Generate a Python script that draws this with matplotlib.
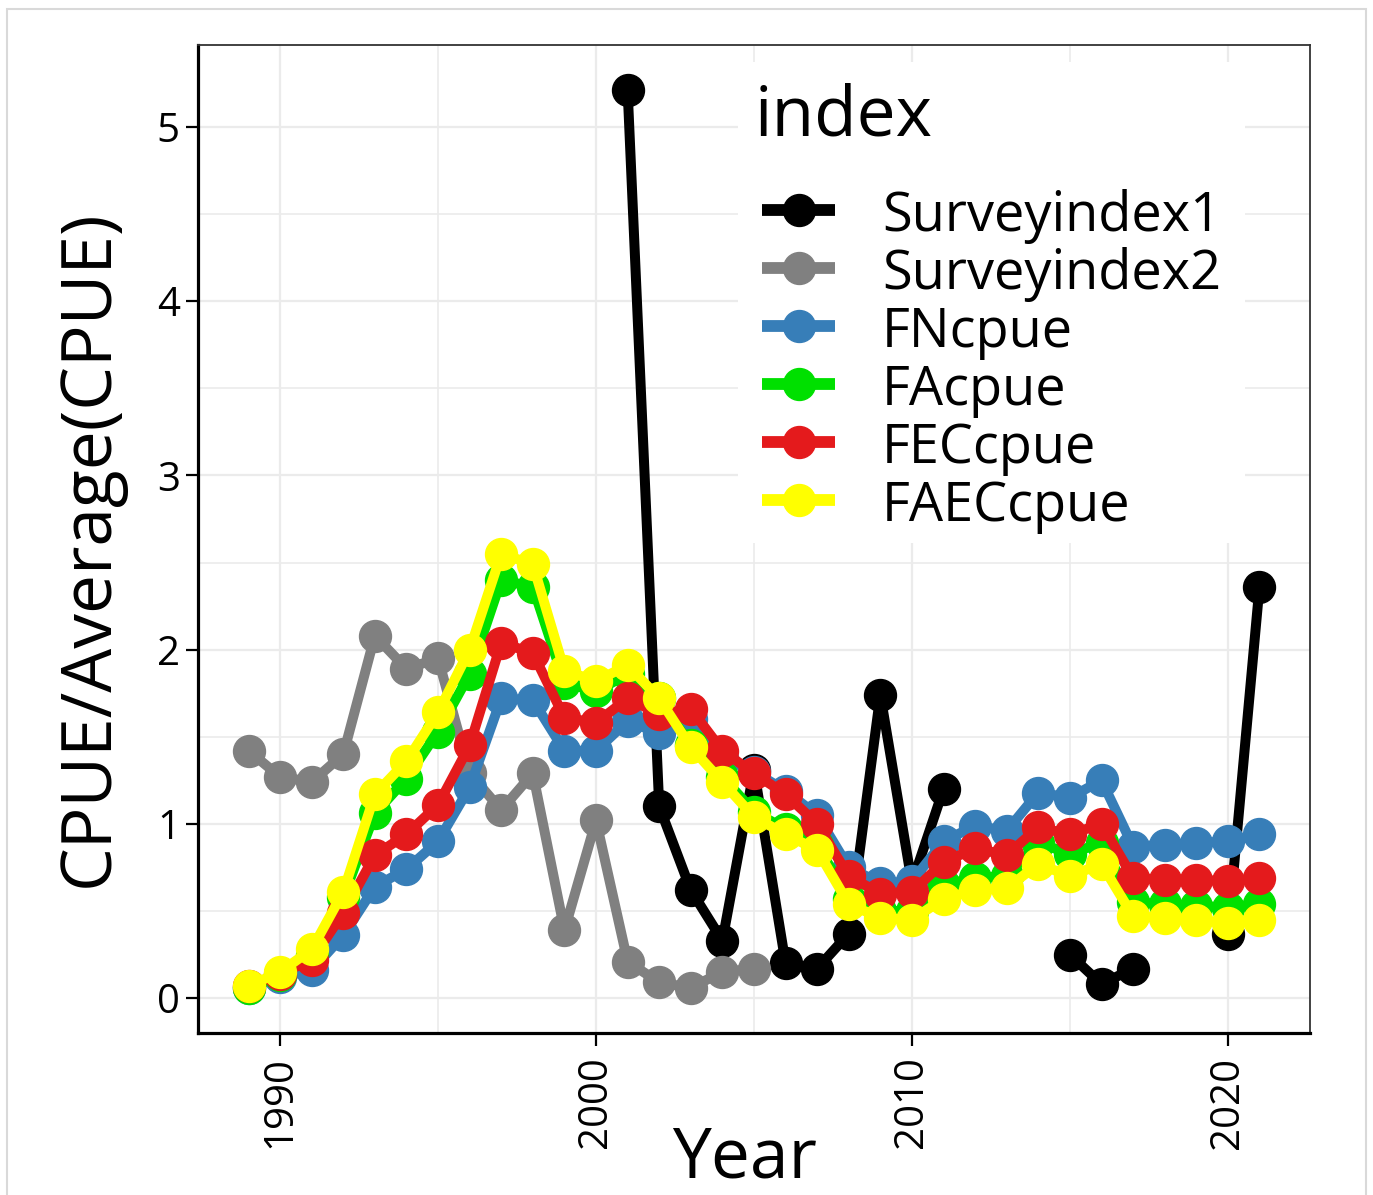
import numpy as np
import matplotlib
matplotlib.use("Agg")
import matplotlib.pyplot as plt
from matplotlib.lines import Line2D
from matplotlib.patches import Rectangle

nan = np.nan

# ── Data ────────────────────────────────────────────────────────────────────
years = [1989, 1990, 1991, 1992, 1993, 1994, 1995, 1996, 1997, 1998, 1999,
         2000, 2001, 2002, 2003, 2004, 2005, 2006, 2007, 2008, 2009, 2010,
         2011, 2012, 2013, 2014, 2015, 2016, 2017, 2018, 2019, 2020, 2021]

surveyindex1 = [nan, nan, nan, nan, nan, nan, nan, nan, nan, nan, nan,
                nan, 5.21, 1.10, 0.62, 0.33, 1.31, 0.20, 0.17, 0.37, 1.74, 0.66,
                1.20, nan, nan, nan, 0.25, 0.08, 0.17, nan, nan, 0.37, 2.36]
surveyindex2 = [1.42, 1.27, 1.24, 1.40, 2.08, 1.89, 1.95, 1.29, 1.08, 1.29, 0.39,
                1.02, 0.21, 0.09, 0.06, 0.15, 0.17, nan, nan, nan, nan, nan,
                nan, nan, nan, nan, nan, nan, nan, nan, nan, nan, nan]
fncpue = [0.06, 0.12, 0.16, 0.36, 0.64, 0.74, 0.90, 1.21, 1.72, 1.71, 1.42,
          1.42, 1.59, 1.52, 1.60, 1.38, 1.30, 1.19, 1.05, 0.75, 0.66, 0.67,
          0.90, 0.99, 0.96, 1.18, 1.15, 1.25, 0.87, 0.88, 0.89, 0.90, 0.94]
facpue = [0.06, 0.13, 0.25, 0.58, 1.06, 1.26, 1.53, 1.86, 2.40, 2.36, 1.81,
          1.76, 1.86, 1.72, 1.45, 1.27, 1.07, 0.97, 0.88, 0.57, 0.50, 0.50,
          0.65, 0.69, 0.70, 0.89, 0.83, 0.89, 0.55, 0.54, 0.53, 0.52, 0.54]
feccpue = [0.07, 0.14, 0.22, 0.49, 0.82, 0.94, 1.11, 1.45, 2.04, 1.98, 1.61,
           1.58, 1.72, 1.63, 1.66, 1.42, 1.29, 1.17, 1.00, 0.70, 0.60, 0.61,
           0.78, 0.86, 0.82, 0.98, 0.94, 1.00, 0.69, 0.68, 0.68, 0.67, 0.69]
faeccpue = [0.07, 0.15, 0.28, 0.61, 1.17, 1.36, 1.64, 2.00, 2.55, 2.49, 1.88,
            1.82, 1.91, 1.72, 1.44, 1.24, 1.04, 0.94, 0.85, 0.54, 0.46, 0.45,
            0.57, 0.62, 0.63, 0.77, 0.70, 0.77, 0.47, 0.46, 0.45, 0.43, 0.45]

labels = ["Surveyindex1", "Surveyindex2", "FNcpue", "FAcpue", "FECcpue", "FAECcpue"]
colours = ["#000000", "#808080", "#377eb8", "#00e000", "#e41a1c", "#ffff00"]
series = [surveyindex1, surveyindex2, fncpue, facpue, feccpue, faeccpue]

x_ticks = [1990, 2000, 2010, 2020]
y_ticks = [0, 1, 2, 3, 4, 5]

plt.rcParams["font.family"] = ["Open Sans", "DejaVu Sans"]

W, H = 1373, 1195
fig = plt.figure(figsize=(W / 100, H / 100), dpi=100, facecolor="white")
ax = fig.add_axes([198 / W, 1 - 1033 / H, (1310 - 198) / W, (1033 - 45) / H])

# ── Series ──────────────────────────────────────────────────────────────────
for vals, col, lab in zip(series, colours, labels):
    ax.plot(years, vals, color=col, lw=7.2, marker="o", ms=23,
            solid_capstyle="butt", label=lab, zorder=3)

# ── Axes styling ────────────────────────────────────────────────────────────
ax.set_xlim(1987.4, 2022.6)
ax.set_ylim(-0.2, 5.47)
ax.set_xticks(x_ticks)
ax.set_xticks([1995, 2005, 2015], minor=True)
ax.set_yticks(y_ticks)
ax.set_yticks([0.5, 1.5, 2.5, 3.5, 4.5], minor=True)
ax.grid(which="major", color="#ebebeb", lw=1.6, zorder=0)
ax.grid(which="minor", color="#ebebeb", lw=1.2, zorder=0)
ax.set_axisbelow(True)

ax.tick_params(which="major", length=9, width=1.6, color="black",
               labelsize=29, pad=4)
ax.tick_params(which="minor", length=0)
ax.tick_params(axis="x", labelrotation=90, pad=8)

for s in ["left", "bottom"]:
    ax.spines[s].set_linewidth(2.3)
    ax.spines[s].set_color("black")
for s in ["top", "right"]:
    ax.spines[s].set_linewidth(1.3)
    ax.spines[s].set_color("#333333")

fig.text(745 / W, 1 / H, "Year", fontsize=50, ha="center", va="bottom")
fig.text(90 / W, 1 - 548 / H, "CPUE/Average(CPUE)", fontsize=50,
         rotation=90, ha="center", va="center")

# ── Legend (ggplot style, inside panel) ─────────────────────────────────────
fig.add_artist(Rectangle((738 / W, 1 - 543 / H), (1245 - 738) / W, (543 - 62) / H,
                         transform=fig.transFigure, facecolor="white",
                         edgecolor="none", zorder=5))
fig.text(755 / W, 1 - 135 / H, "index", fontsize=50, ha="left", va="baseline",
         zorder=6)
row_y = [210, 268, 326, 384, 442, 500]
for py, col, lab in zip(row_y, colours, labels):
    yf = 1 - py / H
    fig.add_artist(Line2D([762 / W, 835 / W], [yf, yf], transform=fig.transFigure,
                          color=col, lw=8.5, solid_capstyle="butt", zorder=6))
    fig.add_artist(Line2D([798.5 / W], [yf], transform=fig.transFigure,
                          color=col, marker="o", ms=23, lw=0, zorder=7))
    fig.text(882 / W, 1 - (py + 21) / H, lab, fontsize=39, ha="left",
             va="baseline", zorder=7)

# light outer frame
fig.add_artist(Rectangle((7 / W, -0.01), (1366 - 7) / W, 1 - 9 / H + 0.01,
                         transform=fig.transFigure, facecolor="none",
                         edgecolor="#d9d9d9", lw=1.5, zorder=0))

fig.savefig("out.png", dpi=100, facecolor="white")
